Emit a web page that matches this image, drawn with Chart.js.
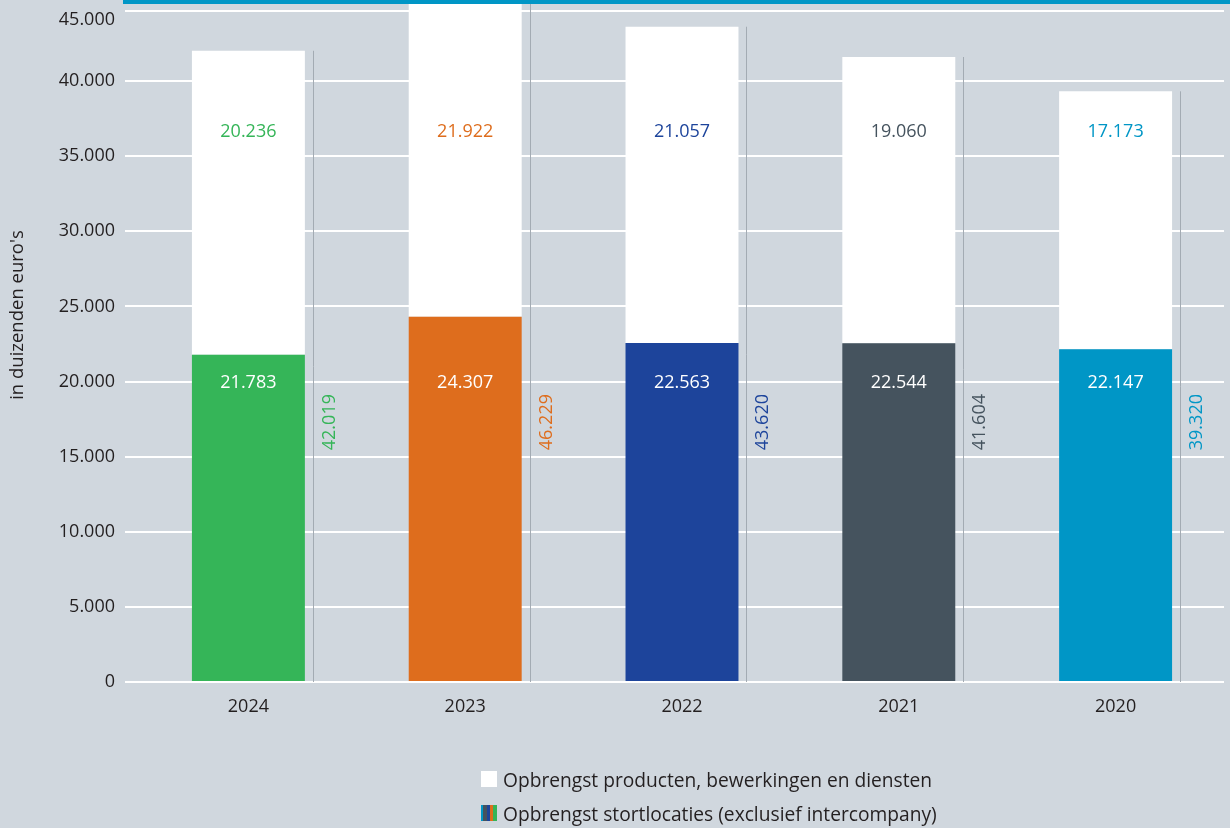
<!DOCTYPE html>
<html><head><meta charset="utf-8">
<script src="https://cdn.jsdelivr.net/npm/chart.js@4.4.1/dist/chart.umd.min.js"></script>
<style>
html,body{margin:0;padding:0;background:#d0d7de;}
#wrap{position:relative;width:1230px;height:828px;overflow:hidden;background:#d0d7de;}
canvas{position:absolute;left:0;top:0;}
.item{position:absolute;left:481px;height:24px;display:flex;align-items:center;font-family:'Open Sans',sans-serif;font-size:19.2px;color:#231f20;white-space:nowrap;}
.box{width:16px;height:16px;margin-right:6px;flex:none;}
</style></head>
<body><div id="wrap"><canvas id="c" width="1230" height="828"></canvas><div id="legend"></div></div>
<script>
const years = ['2024', '2023', '2022', '2021', '2020'];
const stortlocaties = [21783, 24307, 22563, 22544, 22147];
const producten = [20236, 21922, 21057, 19060, 17173];
const totalen = [42019, 46229, 43620, 41604, 39320];
const jaarKleuren = ['#35b558', '#de6d1d', '#1d449b', '#45535e', '#0096c6'];
const seriesNames = ['Opbrengst producten, bewerkingen en diensten', 'Opbrengst stortlocaties (exclusief intercompany)'];
const yAxisTitle = "in duizenden euro's";
const yMax = 45000;

const FONT = '"Open Sans", sans-serif';
const fmt = n => String(n).replace(/\B(?=(\d{3})+(?!\d))/g, '.');

const overlay = {
  id: 'overlay',
  beforeDatasetsDraw(chart) {
    // the top gridline of the reference sits a few pixels below the scale maximum
    const ctx = chart.ctx, y = chart.scales.y;
    ctx.save();
    ctx.strokeStyle = '#ffffff';
    ctx.lineWidth = 2;
    const gy = y.getPixelForValue(yMax) + 5;
    ctx.beginPath(); ctx.moveTo(125, gy); ctx.lineTo(chart.chartArea.right, gy); ctx.stroke();
    ctx.restore();
  },
  afterDatasetsDraw(chart) {
    const ctx = chart.ctx, y = chart.scales.y, area = chart.chartArea;
    const meta = chart.getDatasetMeta(0);
    ctx.save();
    ctx.font = '18px ' + FONT;
    ctx.textAlign = 'center';
    ctx.textBaseline = 'middle';
    meta.data.forEach((bar, i) => {
      const right = bar.x + bar.width / 2;
      const lx = Math.round(right + 8) + 0.5;
      const top = Math.max(4, y.getPixelForValue(totalen[i]));
      ctx.strokeStyle = '#a3abb3';
      ctx.lineWidth = 1;
      ctx.beginPath(); ctx.moveTo(lx, top); ctx.lineTo(lx, area.bottom); ctx.stroke();
      ctx.save();
      ctx.translate(lx + 16.5, y.getPixelForValue(17300));
      ctx.rotate(-Math.PI / 2);
      ctx.fillStyle = jaarKleuren[i];
      ctx.fillText(fmt(totalen[i]), 0, 0);
      ctx.restore();
      ctx.fillStyle = '#ffffff';
      ctx.fillText(fmt(stortlocaties[i]), bar.x, y.getPixelForValue(19900));
      ctx.fillStyle = jaarKleuren[i];
      ctx.fillText(fmt(producten[i]), bar.x, y.getPixelForValue(36600));
    });
    ctx.restore();
  },
  afterDraw(chart) {
    const ctx = chart.ctx, y = chart.scales.y;
    ctx.save();
    ctx.fillStyle = '#0096c6';
    ctx.fillRect(123, 0, 1107, 4);
    ctx.fillStyle = '#231f20';
    ctx.font = '18.5px ' + FONT;
    ctx.textAlign = 'center';
    ctx.textBaseline = 'middle';
    ctx.translate(18, 315);
    ctx.rotate(-Math.PI / 2);
    ctx.fillText(yAxisTitle, 0, 0);
    ctx.restore();
    // top tick label sits below its gridline in the reference
    ctx.save();
    ctx.fillStyle = '#231f20';
    ctx.font = '18px ' + FONT;
    ctx.textAlign = 'right';
    ctx.textBaseline = 'middle';
    ctx.fillText(fmt(yMax), 115, y.getPixelForValue(yMax) + 13.5);
    ctx.restore();
  }
};

new Chart(document.getElementById('c'), {
  type: 'bar',
  data: {
    labels: years,
    datasets: [
      { label: seriesNames[1], data: stortlocaties, backgroundColor: jaarKleuren, borderWidth: 0, clip: false },
      { label: seriesNames[0], data: producten, backgroundColor: '#ffffff', borderWidth: 0, clip: false }
    ]
  },
  options: {
    responsive: false,
    animation: false,
    events: [],
    layout: { padding: { left: 0, right: 6, top: 0, bottom: 0 } },
    datasets: { bar: { categoryPercentage: 1, barPercentage: 0.521 } },
    plugins: { legend: { display: false }, tooltip: { enabled: false } },
    scales: {
      x: {
        stacked: true,
        grid: { display: false, drawTicks: false },
        border: { display: false },
        ticks: { color: '#231f20', font: { family: FONT, size: 18 }, padding: 14 },
        afterFit(s) { s.height = 146; }
      },
      y: {
        stacked: true,
        min: 0, max: yMax,
        grid: {
          color: ctx => ctx.tick && ctx.tick.value === yMax ? 'rgba(0,0,0,0)' : '#ffffff',
          tickColor: ctx => ctx.tick && ctx.tick.value === yMax ? 'rgba(0,0,0,0)' : '#ffffff',
          lineWidth: 2, tickLength: 15
        },
        border: { display: false },
        ticks: {
          stepSize: 5000,
          padding: 10,
          color: ctx => ctx.tick && ctx.tick.value === yMax ? 'rgba(0,0,0,0)' : '#231f20',
          font: { family: FONT, size: 18 },
          callback: v => fmt(v)
        },
        afterFit(s) { s.width = 140; s.paddingTop = 6; s.paddingBottom = 0; }
      }
    }
  },
  plugins: [overlay]
});

// legend
const lg = document.getElementById('legend');
const boxStyles = [
  'background:#ffffff',
  'background:linear-gradient(to right,#0096c6 0 2px,#45535e 2px 6px,#1d449b 6px 9px,#de6d1d 9px 12px,#35b558 12px 16px)'
];
[0, 1].forEach(k => {
  const it = document.createElement('div');
  it.className = 'item';
  it.style.top = (767 + k * 34) + 'px';
  const b = document.createElement('span');
  b.className = 'box';
  b.setAttribute('style', boxStyles[k]);
  const t = document.createElement('span');
  t.textContent = seriesNames[k];
  it.appendChild(b); it.appendChild(t);
  lg.appendChild(it);
});
</script>
</body></html>
